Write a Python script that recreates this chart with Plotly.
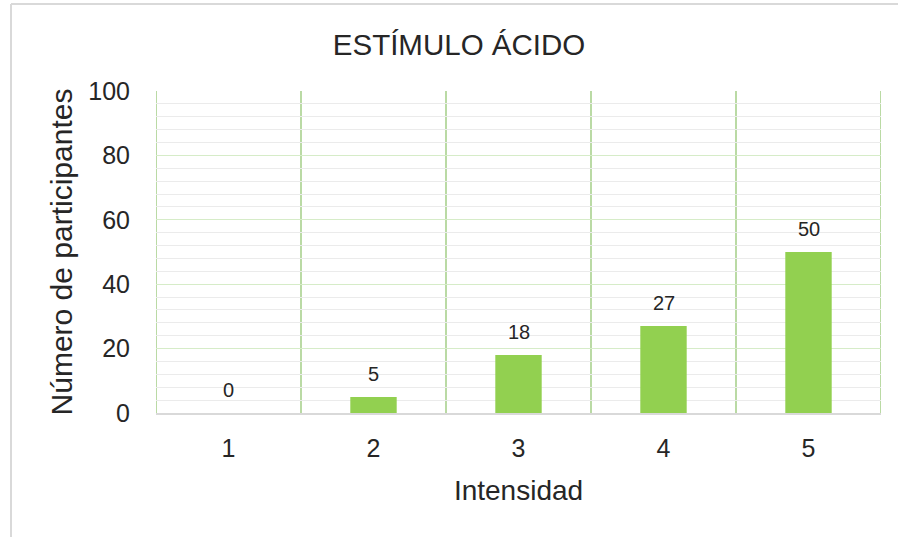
import plotly.graph_objects as go

categories = [1, 2, 3, 4, 5]
values = [0, 5, 18, 27, 50]
y_ticks = [0, 20, 40, 60, 80, 100]

W, H = 898, 537
L, R, T, B = 156, 17, 91, 124

fig = go.Figure()
fig.add_trace(go.Bar(
    x=categories, y=values, width=0.32,
    marker=dict(color="#92d050", line=dict(width=0)),
    hoverinfo="skip",
))

for c, v in zip(categories, values):
    fig.add_annotation(x=c, y=v, text=str(v), showarrow=False, yshift=23,
                       font=dict(size=20, color="#262626",
                                 family="Liberation Sans, Arial, sans-serif"))

# vertical category-boundary gridlines
boundaries = [c - 0.5 for c in categories] + [categories[-1] + 0.5]
for bx in boundaries:
    fig.add_shape(type="line", xref="x", yref="paper", x0=bx, x1=bx, y0=0, y1=1,
                  layer="below", line=dict(color="#a9d18e", width=1.6))

fig.update_layout(
    width=W, height=H,
    margin=dict(l=L, r=R, t=T, b=B, pad=0),
    paper_bgcolor="white", plot_bgcolor="white",
    showlegend=False,
    font=dict(family="Liberation Sans, Arial, sans-serif", color="#262626"),
    title=dict(text="ESTÍMULO ÁCIDO", font=dict(size=29.5, color="#262626"),
               xref="container", yref="container",
               x=459 / W, y=1 - 45 / H, xanchor="center", yanchor="middle"),
    xaxis=dict(
        range=[0.5, 5.5], tickvals=categories, ticktext=[str(c) for c in categories],
        showgrid=False, zeroline=False,
        showline=True, linecolor="#d9d9d9", linewidth=1.5,
        ticks="outside", ticklen=12, tickcolor="rgba(0,0,0,0)",
        tickfont=dict(size=25, color="#262626"),
        title=dict(text="Intensidad", font=dict(size=28, color="#262626"), standoff=20),
    ),
    yaxis=dict(
        range=[0, 100], tickvals=y_ticks,
        showgrid=True, gridcolor="#d6ecc8", gridwidth=1,
        zeroline=False, showline=False,
        ticks="outside", ticklen=20, tickcolor="rgba(0,0,0,0)",
        tickfont=dict(size=25, color="#262626"),
        title=dict(text="Número de participantes", font=dict(size=30, color="#262626"),
                   standoff=6),
        minor=dict(dtick=4, showgrid=True, gridcolor="#ebebeb", gridwidth=1, ticks=""),
    ),
)

# outer chart frame (top and left edges visible in the reference)
fx = (11 - L) / (W - L - R)
fy = (H - B - 4) / (H - T - B)
fig.add_shape(type="line", xref="paper", yref="paper", x0=fx, x1=2, y0=fy, y1=fy,
              line=dict(color="#d9d9d9", width=2))
fig.add_shape(type="line", xref="paper", yref="paper", x0=fx, x1=fx, y0=fy, y1=-2,
              line=dict(color="#d9d9d9", width=2))

fig.write_html("out.html")
